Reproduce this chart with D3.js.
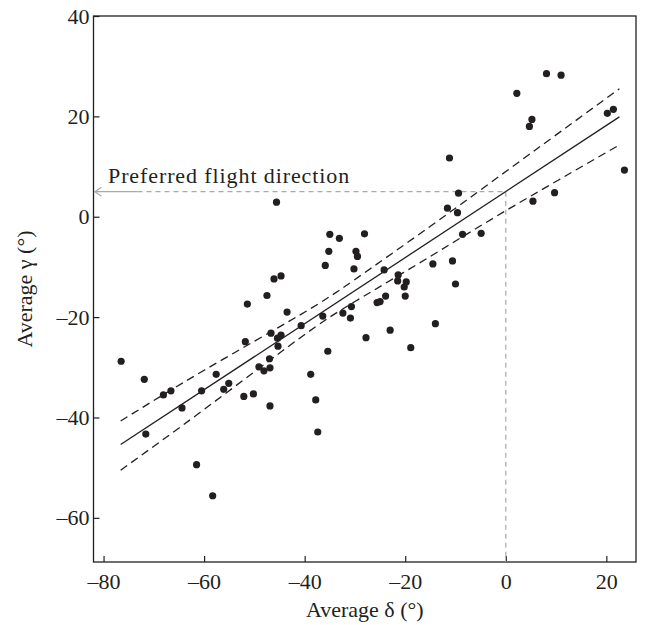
<!DOCTYPE html>
<html>
    <head>
        <meta charset="utf-8">
        <script src="https://cdn.jsdelivr.net/npm/d3@7"></script>
        <style>
            body { margin: 0; background: #fff; }
            text { font-family: "Liberation Serif", "DejaVu Serif", serif; fill: #231f20; }
        </style>
    </head>
    <body>
        <div id="graph"></div>
    </body>
</html>

<script>
    // average delta / average gamma for each bird
    var deltaVals = [-76.5, -71.9, -71.6, -68.1, -66.6, -64.4, -61.5, -60.5, -58.3, -57.6,
                     -56.1, -55.1, -52.1, -51.8, -51.4, -50.2, -49.1, -48.1, -47.5, -47.0,
                     -46.9, -46.9, -46.7, -46.1, -45.6, -45.4, -45.3, -44.7, -44.7, -43.5,
                     -40.7, -38.8, -37.8, -37.4, -36.4, -35.9, -35.4, -35.2, -35.0, -33.1,
                     -32.4, -30.9, -30.7, -30.2, -29.8, -29.5, -28.1, -27.8, -25.6, -25.0,
                     -24.2, -23.9, -23.0, -21.4, -21.5, -20.2, -19.8, -20.0, -18.9, -14.5,
                     -14.0, -11.6, -11.2, -10.6, -10.0, -9.6, -9.4, -8.6, -4.9, 2.2,
                     4.7, 5.2, 5.4, 8.1, 9.7, 11.0, 20.2, 21.4, 23.6];
    var gammaVals = [-28.8, -32.4, -43.3, -35.5, -34.7, -38.1, -49.4, -34.7, -55.6, -31.4,
                     -34.4, -33.2, -35.8, -24.9, -17.4, -35.3, -29.9, -30.7, -15.7, -28.3,
                     -37.7, -30.1, -23.2, -12.4, 2.9, -24.2, -25.8, -23.6, -11.8, -19.0,
                     -21.7, -31.4, -36.5, -42.9, -19.8, -9.7, -26.8, -6.9, -3.5, -4.3,
                     -19.2, -20.2, -17.9, -10.4, -6.9, -7.9, -3.4, -24.1, -17.1, -16.9,
                     -10.6, -15.8, -22.6, -11.6, -12.8, -14.0, -13.0, -15.8, -26.1, -9.4,
                     -21.3, 1.7, 11.7, -8.8, -13.4, 0.8, 4.7, -3.5, -3.3, 24.6,
                     18.0, 19.4, 3.1, 28.5, 4.8, 28.2, 20.6, 21.4, 9.3];

    // regression line and its confidence band
    var fitX = [-76.6, 22.6];
    var fitY = [-45.4, 19.9];
    var bandX = [-76.6, -60, -41, -30, -15, 0, 22.6];
    var bandUpper = [-40.7, -30.6, -19.6, -12.5, -1.9, 9.0, 25.5];
    var bandLower = [-50.5, -38.4, -24.2, -16.9, -7.9, 1.2, 14.3];

    // preferred flight direction (gamma where delta = 0)
    var prefDelta = 0, prefGamma = 5;

    var xTicks = [-80, -60, -40, -20, 0, 20];
    var yTicks = [-60, -40, -20, 0, 20, 40];

    var W = 646, H = 625;
    var margin = {top: 16, right: 10, bottom: 63, left: 93.5};

    var svg = d3.select("#graph")
        .append("svg")
        .attr("width", W)
        .attr("height", H);

    var x = d3.scaleLinear()
        .domain([-82, 25.9])
        .range([margin.left, W - margin.right]);

    var y = d3.scaleLinear()
        .domain([-68.8, 40])
        .range([H - margin.bottom, margin.top]);

    var ink = "#231f20";
    // en dash for negatives, like the printed figure
    var fmt = function (d) { return d < 0 ? "\u2013" + Math.abs(d) : String(d); };

    // axes with inward ticks
    var xAxis = svg.append("g")
        .attr("transform", "translate(0," + (H - margin.bottom) + ")")
        .call(d3.axisBottom(x).tickValues(xTicks).tickFormat(fmt)
            .tickSizeInner(-6).tickSizeOuter(0).tickPadding(11));
    var yAxis = svg.append("g")
        .attr("transform", "translate(" + margin.left + ",0)")
        .call(d3.axisLeft(y).tickValues(yTicks).tickFormat(fmt)
            .tickSizeInner(-6).tickSizeOuter(0).tickPadding(4));

    [xAxis, yAxis].forEach(function (g) {
        g.select(".domain").remove();
        g.selectAll("line").attr("stroke", ink).attr("stroke-width", 1.2);
        g.selectAll("text").style("font-size", "22px").attr("fill", ink)
            .style("font-family", "'Liberation Serif', serif");
    });

    // frame
    svg.append("rect")
        .attr("x", x.range()[0])
        .attr("y", y.range()[1])
        .attr("width", x.range()[1] - x.range()[0])
        .attr("height", y.range()[0] - y.range()[1])
        .attr("fill", "none")
        .attr("stroke", ink)
        .attr("stroke-width", 1.3);

    // axis titles
    svg.append("text")
        .attr("x", (x.range()[0] + x.range()[1]) / 2)
        .attr("y", 617)
        .style("text-anchor", "middle")
        .style("font-size", "22px")
        .text("Average \u03b4 (\u00b0)");

    svg.append("text")
        .attr("transform", "translate(32," + ((y.range()[0] + y.range()[1]) / 2) + ") rotate(-90)")
        .style("text-anchor", "middle")
        .style("font-size", "22px")
        .text("Average \u03b3 (\u00b0)");

    // preferred direction guides
    var grey = "#a7a9ac";
    var shaftEnd = x.range()[0] + 44;
    svg.append("line")
        .attr("x1", shaftEnd).attr("x2", x(prefDelta))
        .attr("y1", y(prefGamma)).attr("y2", y(prefGamma))
        .attr("stroke", grey).attr("stroke-width", 1.2)
        .attr("stroke-dasharray", "5,4");
    svg.append("line")
        .attr("x1", x(prefDelta)).attr("x2", x(prefDelta))
        .attr("y1", y(prefGamma)).attr("y2", y.range()[0])
        .attr("stroke", grey).attr("stroke-width", 1.2)
        .attr("stroke-dasharray", "5,4");
    svg.append("line")
        .attr("x1", x.range()[0] + 1).attr("x2", shaftEnd)
        .attr("y1", y(prefGamma)).attr("y2", y(prefGamma))
        .attr("stroke", grey).attr("stroke-width", 1.2);
    svg.append("path")
        .attr("d", "M" + (x.range()[0] + 8) + "," + (y(prefGamma) - 4.5) +
                   "L" + (x.range()[0] + 1.5) + "," + y(prefGamma) +
                   "L" + (x.range()[0] + 8) + "," + (y(prefGamma) + 4.5))
        .attr("fill", "none")
        .attr("stroke", grey)
        .attr("stroke-width", 1.2);

    svg.append("text")
        .attr("x", x.range()[0] + 14.5)
        .attr("y", 183)
        .style("font-size", "22px")
        .style("letter-spacing", "0.9px")
        .text("Preferred flight direction");

    // regression + band
    var band = d3.line().curve(d3.curveNatural)
        .x(function (d) { return x(d[0]); })
        .y(function (d) { return y(d[1]); });

    svg.append("path")
        .attr("d", band(d3.zip(bandX, bandUpper)))
        .attr("fill", "none").attr("stroke", ink).attr("stroke-width", 1.3)
        .attr("stroke-dasharray", "8,5");
    svg.append("path")
        .attr("d", band(d3.zip(bandX, bandLower)))
        .attr("fill", "none").attr("stroke", ink).attr("stroke-width", 1.3)
        .attr("stroke-dasharray", "8,5");
    svg.append("path")
        .attr("d", d3.line()(d3.zip(fitX, fitY).map(function (d) { return [x(d[0]), y(d[1])]; })))
        .attr("fill", "none").attr("stroke", ink).attr("stroke-width", 1.3);

    // points
    svg.append("g")
        .selectAll("circle")
        .data(d3.zip(deltaVals, gammaVals))
        .enter()
        .append("circle")
            .attr("cx", function (d) { return x(d[0]); })
            .attr("cy", function (d) { return y(d[1]); })
            .attr("r", 3.6)
            .style("fill", ink);
</script>
